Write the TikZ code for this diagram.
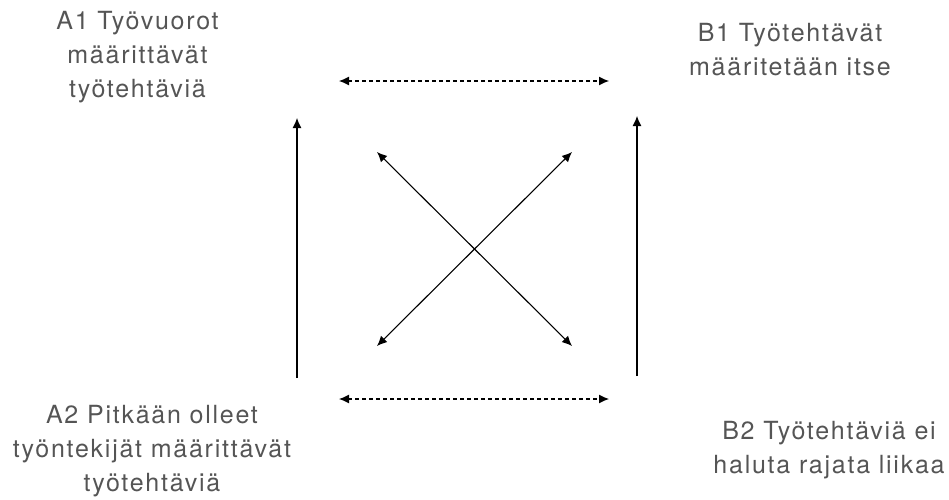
\documentclass[tikz,border=0pt]{standalone}
\usepackage{fontspec}
\setmainfont{TeX Gyre Heros}[LetterSpace=7]
\usepackage{xcolor}
\usetikzlibrary{arrows.meta}
\definecolor{labelgray}{HTML}{555555}

\begin{document}
\begin{tikzpicture}[x=1pt, y=-1pt,
    corner/.style={align=center, text=labelgray, inner sep=0pt,
      font=\fontsize{25}{34}\selectfont},
    link/.style={line width=1.1pt, {Latex[length=10pt,width=9pt]}-{Latex[length=10pt,width=9pt]}},
    rise/.style={line width=1.1pt, -{Latex[length=10pt,width=9pt]}},
    dashlink/.style={link, dash pattern=on 4pt off 3pt}]
  \useasboundingbox (0,0) rectangle (949,499);

  % Corner labels
  \node[corner] (a1) at (137.5, 57) {A1 Työvuorot\\määrittävät\\työtehtäviä};
  \node[corner] (b1) at (790, 50) {B1 Työtehtävät\\määritetään itse};
  \node[corner] (a2) at (152, 451) {A2 Pitkään olleet\\työntekijät määrittävät\\työtehtäviä};
  \node[corner] (b2) at (829, 450) {B2 Työtehtäviä ei\\haluta rajata liikaa};

  % Arrow ends
  \coordinate (topL) at (339, 81);
  \coordinate (topR) at (609, 81);
  \coordinate (botL) at (339, 399);
  \coordinate (botR) at (609, 399);
  \coordinate (leftB) at (297, 378);
  \coordinate (leftT) at (297, 118);
  \coordinate (rightB) at (637, 376);
  \coordinate (rightT) at (637, 116);
  \coordinate (crossTL) at (377, 152);
  \coordinate (crossTR) at (572, 152);
  \coordinate (crossBL) at (377, 346);
  \coordinate (crossBR) at (572, 346);

  % Dashed horizontal links
  \draw[dashlink] (topL) -- (topR);
  \draw[dashlink] (botL) -- (botR);

  % Vertical arrows
  \draw[rise] (leftB) -- (leftT);
  \draw[rise] (rightB) -- (rightT);

  % Diagonal cross
  \draw[link] (crossTL) -- (crossBR);
  \draw[link] (crossBL) -- (crossTR);
\end{tikzpicture}
\end{document}
